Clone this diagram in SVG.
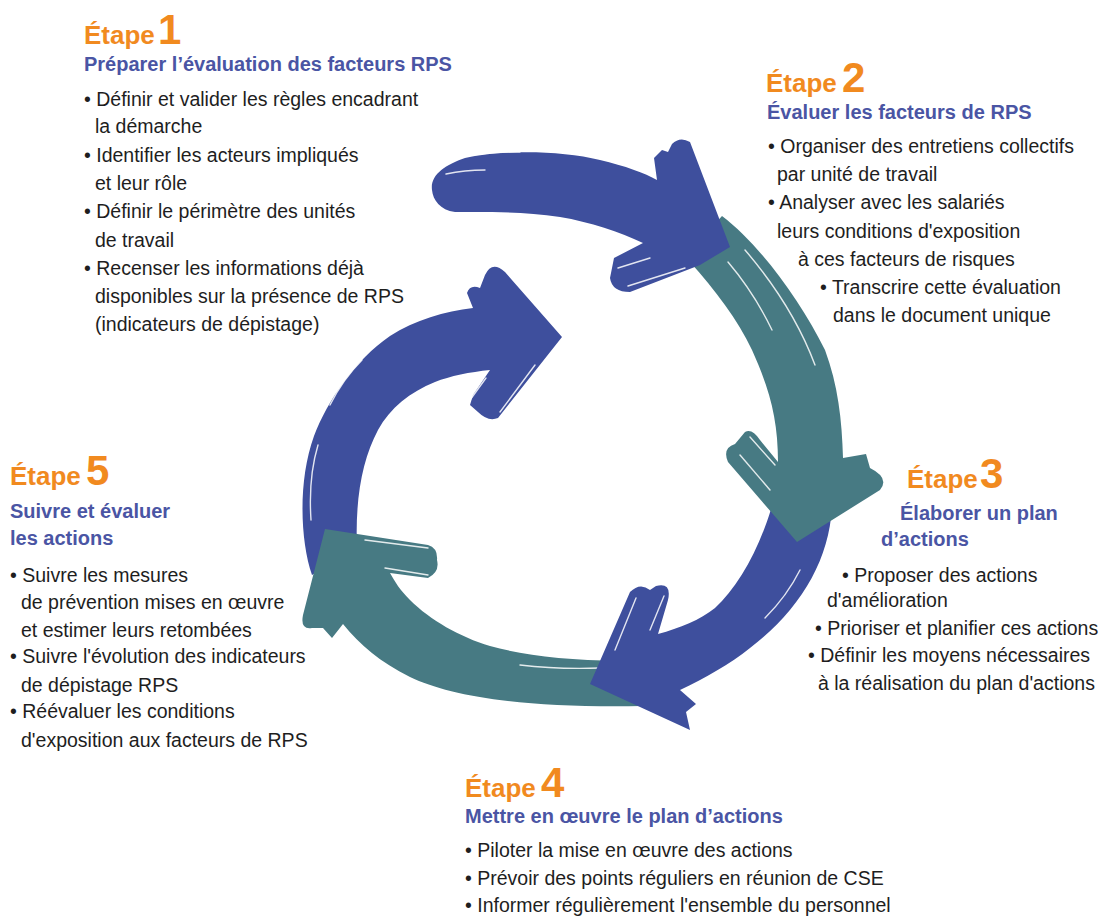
<svg xmlns="http://www.w3.org/2000/svg" width="1100" height="918" viewBox="0 0 1100 918">
<style>
.et{font-family:"Liberation Sans",Arial,sans-serif;font-weight:bold;fill:#f18a1f;font-size:26px}
.num{font-family:"Liberation Sans",Arial,sans-serif;font-weight:bold;fill:#f18a1f;font-size:42px}
.sub{font-family:"Liberation Sans",Arial,sans-serif;font-weight:bold;fill:#4a55a4;font-size:20px}
.tx{font-family:"Liberation Sans",Arial,sans-serif;fill:#1e1e1e;font-size:19.5px}
.blue{fill:#3e4f9d}
.teal{fill:#477a83}
.st{fill:none;stroke:#ffffff;stroke-width:1.4;stroke-linecap:round;opacity:0.85}
</style>
<rect width="1100" height="918" fill="#ffffff"/>
<g id="connectors">
  <!-- arrow 5 (blue, left) -->
  <path class="blue" d="M 312,575 C 300,540 298,480 314,436 C 328,400 355,360 390,336 C 415,320 445,311 473,308 L 467,293 Q 470,284 480,288 L 485,275 Q 492,260 505,272 L 562,337 L 498,418 Q 488,422 478,412 L 470,405 L 473,395 L 490,370 C 470,372 450,376 435,382 C 410,392 390,408 378,430 C 362,460 355,500 357,548 Z"/>
  <path class="st" d="M 318,445 C 312,465 309,490 311,520"/>
  <path class="st" d="M 330,405 C 340,385 352,370 362,360"/>
  <path class="st" d="M 486,378 L 470,400"/>
  <path class="st" d="M 535,365 L 500,412"/>
  <!-- arrow 4 (teal, bottom) -->
  <path class="teal" d="M 648,660 C 580,662 530,657 490,646 C 460,637 430,620 410,600 C 400,590 395,582 390,573 L 428,578 Q 440,572 437,560 Q 438,548 428,545 L 325,529 L 303,615 Q 300,630 312,628 L 323,628 L 332,638 L 343,624 C 360,645 380,662 410,677 C 450,696 520,708 642,706 Z"/>
  <path class="st" d="M 365,540 L 428,548"/>
  <path class="st" d="M 385,568 L 428,575"/>
  <path class="st" d="M 430,690 C 470,702 505,706 545,707"/>
  <path class="st" d="M 520,665 C 545,668 570,669 600,668"/>
  <!-- arrow 3 (blue, bottom right) -->
  <path class="blue" d="M 775,495 L 832,505 C 830,560 800,610 750,648 C 730,664 705,678 680,690 L 696,704 L 686,712 L 690,730 L 590,684 L 630,592 Q 640,582 650,590 L 656,586 Q 672,582 668,600 L 658,634 C 680,628 700,620 715,608 C 740,585 762,545 775,495 Z"/>
  <path class="st" d="M 636,598 L 615,650"/>
  <path class="st" d="M 664,596 L 650,630"/>
  <path class="st" d="M 800,570 C 790,590 778,605 765,618"/>
  <!-- arrow 2 (teal, right) -->
  <path class="teal" d="M 700,240 L 722,216 C 760,245 800,300 825,350 C 838,385 842,420 843,458 L 866,454 L 870,468 Q 890,478 880,490 L 797,542 L 728,462 Q 722,448 735,444 L 745,432 Q 752,428 760,440 L 778,462 C 778,420 770,390 752,350 C 738,320 715,290 690,262 Z"/>
  <path class="st" d="M 745,250 C 775,285 800,325 815,365"/>
  <path class="st" d="M 728,262 C 745,282 760,305 772,330"/>
  <path class="st" d="M 750,437 L 775,465"/>
  <path class="st" d="M 740,455 L 770,490"/>
  <!-- arrow 1 (blue, top) -->
  <path class="blue" d="M 432,190 C 430,175 445,165 465,158 C 500,150 560,150 600,160 C 625,166 645,173 657,180 L 654,158 L 662,150 L 668,152 L 672,144 Q 680,136 690,142 L 730,247 L 700,265 L 630,292 Q 612,292 610,278 L 614,258 L 643,243 C 620,232 590,222 560,217 C 520,211 480,212 455,212 C 440,210 433,200 432,190 Z"/>
  <path class="st" d="M 462,157 C 480,153 500,152 520,152"/>
  <path class="st" d="M 446,174 C 460,171 475,170 485,170"/>
  <path class="st" d="M 618,268 L 650,258"/>
  <path class="st" d="M 628,286 L 685,268"/>
</g>
<g id="step1">
  <text class="et" x="84" y="44">Étape</text><text class="num" x="158" y="44">1</text>
  <text class="sub" x="84" y="71">Préparer l’évaluation des facteurs RPS</text>
  <text class="tx" x="84" y="106">• Définir et valider les règles encadrant</text>
  <text class="tx" x="95" y="133">la démarche</text>
  <text class="tx" x="84" y="162">• Identifier les acteurs impliqués</text>
  <text class="tx" x="95" y="190">et leur rôle</text>
  <text class="tx" x="84" y="218">• Définir le périmètre des unités</text>
  <text class="tx" x="95" y="247">de travail</text>
  <text class="tx" x="84" y="275">• Recenser les informations déjà</text>
  <text class="tx" x="95" y="303">disponibles sur la présence de RPS</text>
  <text class="tx" x="95" y="331">(indicateurs de dépistage)</text>
</g>
<g id="step2">
  <text class="et" x="766" y="92">Étape</text><text class="num" x="842" y="92">2</text>
  <text class="sub" x="767" y="119">Évaluer les facteurs de RPS</text>
  <text class="tx" x="768" y="153">• Organiser des entretiens collectifs</text>
  <text class="tx" x="777" y="181">par unité de travail</text>
  <text class="tx" x="768" y="209">• Analyser avec les salariés</text>
  <text class="tx" x="777" y="238">leurs conditions d'exposition</text>
  <text class="tx" x="798" y="266">à ces facteurs de risques</text>
  <text class="tx" x="820" y="294">• Transcrire cette évaluation</text>
  <text class="tx" x="833" y="322">dans le document unique</text>
</g>
<g id="step3">
  <text class="et" x="907" y="488">Étape</text><text class="num" x="980" y="488">3</text>
  <text class="sub" x="900" y="520">Élaborer un plan</text>
  <text class="sub" x="881" y="546">d’actions</text>
  <text class="tx" x="842" y="582">• Proposer des actions</text>
  <text class="tx" x="827" y="607">d'amélioration</text>
  <text class="tx" x="815" y="635">• Prioriser et planifier ces actions</text>
  <text class="tx" x="808" y="662">• Définir les moyens nécessaires</text>
  <text class="tx" x="818" y="690">à la réalisation du plan d'actions</text>
</g>
<g id="step4">
  <text class="et" x="465" y="797">Étape</text><text class="num" x="541" y="797">4</text>
  <text class="sub" x="465" y="823">Mettre en œuvre le plan d’actions</text>
  <text class="tx" x="465" y="857">• Piloter la mise en œuvre des actions</text>
  <text class="tx" x="465" y="885">• Prévoir des points réguliers en réunion de CSE</text>
  <text class="tx" x="465" y="912">• Informer régulièrement l'ensemble du personnel</text>
</g>
<g id="step5">
  <text class="et" x="10" y="485">Étape</text><text class="num" x="86" y="485">5</text>
  <text class="sub" x="10" y="518">Suivre et évaluer</text>
  <text class="sub" x="10" y="545">les actions</text>
  <text class="tx" x="10" y="582">• Suivre les mesures</text>
  <text class="tx" x="21" y="609">de prévention mises en œuvre</text>
  <text class="tx" x="21" y="637">et estimer leurs retombées</text>
  <text class="tx" x="10" y="663">• Suivre l'évolution des indicateurs</text>
  <text class="tx" x="21" y="692">de dépistage RPS</text>
  <text class="tx" x="10" y="718">• Réévaluer les conditions</text>
  <text class="tx" x="21" y="747">d'exposition aux facteurs de RPS</text>
</g>
</svg>
